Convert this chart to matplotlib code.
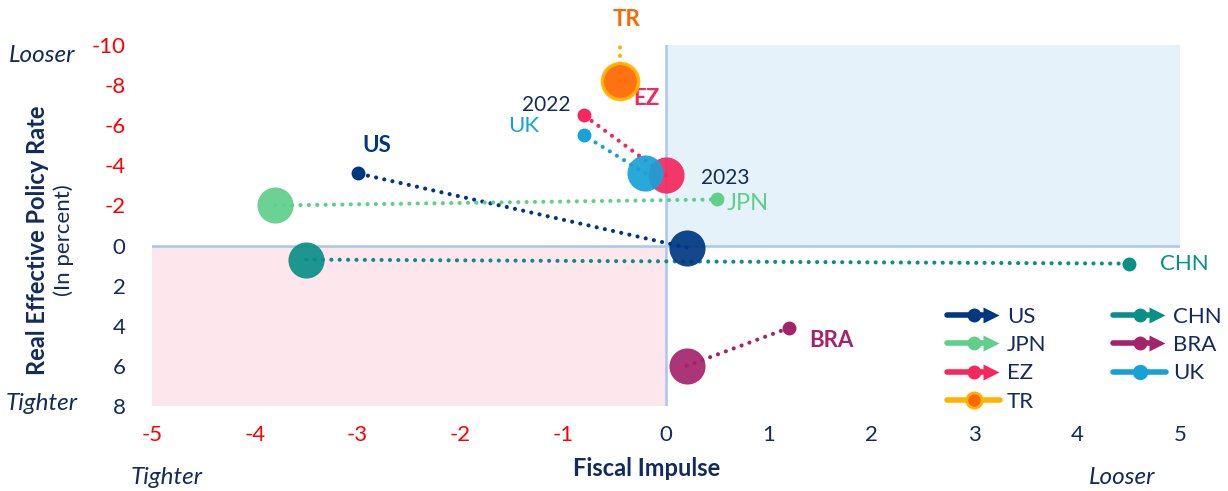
import matplotlib
matplotlib.use("Agg")
import matplotlib.pyplot as plt
from matplotlib.patches import Rectangle
from matplotlib.lines import Line2D
from matplotlib.legend_handler import HandlerBase

plt.rcParams['font.family'] = ['Lato', 'DejaVu Sans']
plt.rcParams['axes.unicode_minus'] = False

# data: (fiscal impulse, real effective policy rate), 2022 -> 2023
countries = ['US', 'JPN', 'EZ', 'TR', 'CHN', 'BRA', 'UK']
x_2022 = [-3.0, 0.5, -0.8, -0.45, 4.5, 1.2, -0.8]
y_2022 = [-3.6, -2.3, -6.5, -12.0, 0.9, 4.1, -5.5]
x_2023 = [0.2, -3.8, 0.0, -0.45, -3.5, 0.2, -0.2]
y_2023 = [0.1, -2.0, -3.5, -8.2, 0.7, 6.0, -3.6]

x_ticks = [-5, -4, -3, -2, -1, 0, 1, 2, 3, 4, 5]
y_ticks = [-10, -8, -6, -4, -2, 0, 2, 4, 6, 8]

colors = {'US': '#003781', 'JPN': '#5FCF8B', 'EZ': '#F5275C', 'TR': '#FF6600',
          'CHN': '#0A8F87', 'BRA': '#A3246B', 'UK': '#16A2D7'}
edge = {'TR': '#FFB300'}
navy = '#122B5C'

# label offsets in points (TR from its 2023 dot, others from 2022 dot)
lab_off = {'US': (14, 20), 'JPN': (22, -3), 'EZ': (45, 12), 'TR': (5, 44),
           'CHN': (40, 0), 'BRA': (30, -9), 'UK': (-43, 7)}
lab_bold = {'US': True, 'JPN': False, 'EZ': True, 'TR': True, 'CHN': False, 'BRA': True, 'UK': False}

fig = plt.figure(figsize=(12.28, 4.91), dpi=100)
ax = fig.add_axes([152 / 1228, 1 - 406 / 491, 1028 / 1228, 361 / 491])
ax.set_xlim(-5, 5)
ax.set_ylim(8, -10)

# quadrant shading
ax.add_patch(Rectangle((0, -10), 5, 10, color='#E5F2FA', zorder=0, lw=0))
ax.add_patch(Rectangle((-5, 0), 5, 8, color='#FDE6EC', zorder=0, lw=0))
ax.axhline(0, color='#A9C6F2', lw=1.8, zorder=1)
ax.axvline(0, color='#A9C6F2', lw=1.8, zorder=1)

for i, c in enumerate(countries):
    col = colors[c]
    # dotted path drawn from 2023 back to 2022
    ax.plot([x_2023[i], x_2022[i]], [y_2023[i], y_2022[i]], color=edge.get(c, col), lw=3,
            linestyle=(0, (0.01, 2.0)), dash_capstyle='round', zorder=2)
    ax.plot(x_2022[i], y_2022[i], 'o', ms=10, color=col, mec='none', zorder=3)
for i, c in enumerate(countries):
    col = colors[c]
    ax.plot(x_2023[i], y_2023[i], 'o', ms=26, color=col, alpha=0.92,
            mec=edge.get(c, 'none'), mew=2.5, zorder=4)

for i, c in enumerate(countries):
    if c == 'TR':
        px, py = x_2023[i], y_2023[i]
    else:
        px, py = x_2022[i], y_2022[i]
    ax.annotate(c, (px, py), xytext=lab_off[c], textcoords='offset points',
                ha='center', va='center', color=colors[c],
                fontsize=17 if c == 'JPN' else 16,
                fontweight='bold' if lab_bold[c] else 'normal', annotation_clip=False)

# year markers
ax.annotate('2022', (x_2022[2], y_2022[2]), xytext=(-27, 7), textcoords='offset points',
            ha='center', va='center', color=navy, fontsize=15)
ax.annotate('2023', (x_2023[2], y_2023[2]), xytext=(43, -2), textcoords='offset points',
            ha='center', va='center', color=navy, fontsize=15)

ax.set_xticks(x_ticks)
ax.set_yticks(y_ticks)
ax.tick_params(axis='x', length=0, pad=14, labelsize=16)
ax.tick_params(axis='y', length=0, pad=19, labelsize=16)
for lab, v in zip(ax.get_xticklabels(), x_ticks):
    lab.set_color('#FF0000' if v < 0 else navy)
for lab, v in zip(ax.get_yticklabels(), y_ticks):
    lab.set_color('#FF0000' if v < 0 else navy)
for s in ax.spines.values():
    s.set_visible(False)

# axis titles
fig.text(38 / 1228, 1 - 240 / 491, 'Real Effective Policy Rate', rotation=90, ha='center', va='center',
         fontsize=17, fontweight='bold', color=navy)
fig.text(64 / 1228, 1 - 240 / 491, '(In percent)', rotation=90, ha='center', va='center',
         fontsize=16, color=navy)
fig.text(42 / 1228, 1 - 55 / 491, 'Looser', ha='center', va='center', fontsize=17.5, style='italic', color=navy)
fig.text(42 / 1228, 1 - 403 / 491, 'Tighter', ha='center', va='center', fontsize=17.5, style='italic', color=navy)
fig.text(647 / 1228, 1 - 469 / 491, 'Fiscal Impulse', ha='center', va='center', fontsize=17,
         fontweight='bold', color=navy)
fig.text(167 / 1228, 1 - 477 / 491, 'Tighter', ha='center', va='center', fontsize=17.5, style='italic', color=navy)
fig.text(1122 / 1228, 1 - 477 / 491, 'Looser', ha='center', va='center', fontsize=17.5, style='italic', color=navy)


# legend with arrow handles
class Key:
    def __init__(self, color, edge, arrow):
        self.color = color
        self.edge = edge
        self.arrow = arrow


class KeyHandler(HandlerBase):
    def create_artists(self, legend, orig, xd, yd, w, h, fs, trans):
        y = h / 2 - yd
        x0 = -xd
        if orig.arrow:
            line = Line2D([x0, x0 + w * 0.72], [y, y], color=orig.color, lw=4, solid_capstyle='round')
            dot = Line2D([x0 + w * 0.51], [y], marker='o', ms=10, color=orig.color, mec='none')
            head = Line2D([x0 + w * 0.83], [y], marker='>', ms=12, color=orig.color, mec='none')
            arts = [line, dot, head]
        else:
            line = Line2D([x0, x0 + w], [y, y], color=orig.edge or orig.color, lw=4, solid_capstyle='round')
            dot = Line2D([x0 + w * 0.5], [y], marker='o', ms=11, color=orig.color,
                         mec=orig.edge or 'none', mew=2)
            arts = [line, dot]
        for a in arts:
            a.set_transform(trans)
        return arts


leg_order = ['US', 'JPN', 'EZ', 'TR', 'CHN', 'BRA', 'UK']
keys = []
for c in leg_order:
    keys.append(Key(colors[c], edge.get(c), c not in ('TR', 'UK')))
leg = ax.legend(keys, leg_order, handler_map={Key: KeyHandler()}, loc='upper left',
                bbox_to_anchor=((947 - 152) / 1028, (406 - 307) / 361), ncol=2, frameon=False,
                fontsize=16, handlelength=2.4, handletextpad=0.3, columnspacing=3.0,
                labelspacing=0.37, borderpad=0, borderaxespad=0)
for t in leg.get_texts():
    t.set_color(navy)

fig.savefig('out.png', dpi=100)
